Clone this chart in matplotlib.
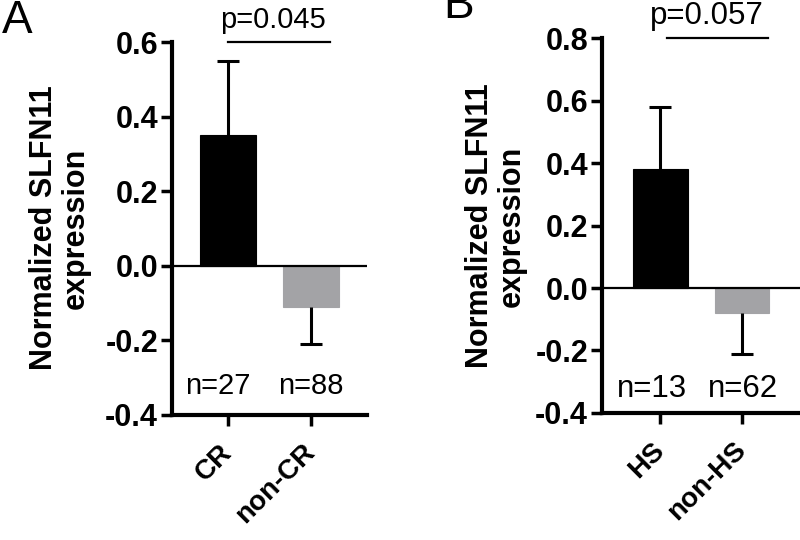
#!/usr/bin/env python3
'''
two bar charts of normalized SLFN11 expression (panel A: CR vs non-CR,
panel B: HS vs non-HS) with one-sided error bars and p values
'''

import matplotlib
matplotlib.use('Agg')
import matplotlib.pyplot as plt

plt.rcParams['font.family'] = ['Liberation Sans', 'DejaVu Sans']

# panel A data
groups_a = ['CR', 'non-CR']
means_a = [0.35, -0.11]
errs_a = [0.20, 0.10]
counts_a = ['n=27', 'n=88']
p_text_a = 'p=0.045'
yticks_a = [-0.4, -0.2, 0.0, 0.2, 0.4, 0.6]

# panel B data
groups_b = ['HS', 'non-HS']
means_b = [0.38, -0.08]
errs_b = [0.20, 0.13]
counts_b = ['n=13', 'n=62']
p_text_b = 'p=0.057'
yticks_b = [-0.4, -0.2, 0.0, 0.2, 0.4, 0.6, 0.8]

bar_colors = ['#000000', '#a3a3a6']


def draw_panel(ax, groups, means, errs, counts, p_text, yticks, xlim,
               sig_span, text_x, p_x, text_size):
    pos = list(range(len(groups)))
    ax.bar(pos, means, width=0.67, color=bar_colors, edgecolor=bar_colors,
           linewidth=0.8, zorder=2)
    # one-sided error bars, pointing away from zero
    for x, m, e in zip(pos, means, errs):
        tip = m + e if m >= 0 else m - e
        ax.vlines(x, m, tip, color='black', linewidth=2.2, zorder=3)
        ax.hlines(tip, x - 0.13, x + 0.13, color='black', linewidth=2.2, zorder=3)
    ax.axhline(0, color='black', linewidth=1.6, zorder=4)

    ax.set_xlim(xlim)
    ax.set_ylim(yticks[0], yticks[-1])
    ax.set_yticks(yticks)
    ax.set_yticklabels(['%.1f' % t for t in yticks], fontsize=22,
                       fontweight='bold')
    ax.set_xticks(pos)
    ax.set_xticklabels(groups, fontsize=20, fontweight='bold', rotation=45,
                       ha='right', va='center', rotation_mode='anchor')
    ax.tick_params(axis='both', direction='out', length=8, width=2.5)
    ax.tick_params(axis='y', pad=2)
    ax.tick_params(axis='x', pad=16)
    for side in ['top', 'right']:
        ax.spines[side].set_visible(False)
    for side in ['left', 'bottom']:
        ax.spines[side].set_linewidth(3)

    for x, n in zip(text_x, counts):
        ax.text(x, -0.323, n, fontsize=text_size, ha='center', va='center')

    top = yticks[-1]
    ax.plot(sig_span, [top, top], color='black', linewidth=1.6, clip_on=False)
    step = (yticks[-1] - yticks[0]) / 373.0
    ax.text(p_x, top + 22 * step, p_text, fontsize=text_size, ha='center',
            va='center', clip_on=False)


fig = plt.figure(figsize=(8, 5.4), dpi=100)

ax_a = fig.add_axes([0.215, 0.2315, 0.244, 0.6907])
draw_panel(ax_a, groups_a, means_a, errs_a, counts_a, p_text_a, yticks_a,
           (-0.67, 1.67), [0.0, 1.23], [-0.12, 1.0], 0.54, 21)

ax_b = fig.add_axes([0.7525, 0.2352, 0.2475, 0.6944])
draw_panel(ax_b, groups_b, means_b, errs_b, counts_b, p_text_b, yticks_b,
           (-0.71, 1.71), [0.08, 1.32], [-0.1, 1.01], 0.57, 22.5)

label = 'Normalized SLFN11\nexpression'
fig.text(60 / 800, 1 - 228 / 540, label, rotation=90, fontsize=22,
         fontweight='bold', ha='center', va='center', multialignment='center',
         linespacing=1.05)
fig.text(496 / 800, 1 - 226 / 540, label, rotation=90, fontsize=22,
         fontweight='bold', ha='center', va='center', multialignment='center',
         linespacing=1.05)

fig.text(2 / 800, 1 - 33 / 540, 'A', fontsize=33, ha='left', va='baseline')
fig.text(443 / 800, 1 - 18 / 540, 'B', fontsize=33, ha='left', va='baseline')

fig.savefig('out.png', dpi=100)
